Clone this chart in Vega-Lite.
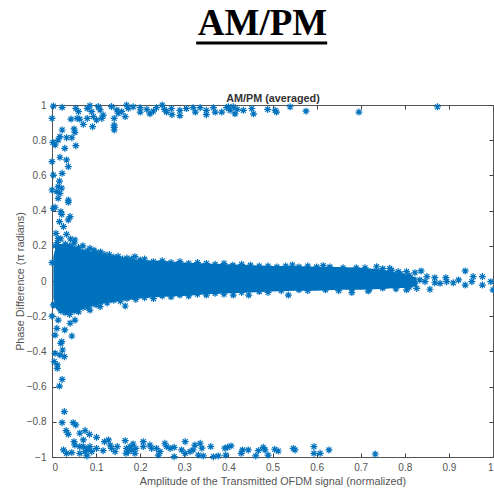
{"$schema":"https://vega.github.io/schema/vega-lite/v6.json","autosize":"none","width":441,"height":352,"padding":{"left":52,"top":105,"right":1,"bottom":34},"background":"white",
"title":{"text":"AM/PM","font":"Liberation Serif","fontSize":37,"fontWeight":"bold","color":"#000000","anchor":"middle","frame":"group","dx":-10,"offset":-1},
"config":{"view":{"stroke":null},"axis":{"grid":false,"domainColor":"#555555","tickColor":"#404040","labelColor":"#555555","titleColor":"#555555","labelFont":"Liberation Sans","titleFont":"Liberation Sans","labelFontSize":10,"titleFontSize":10.8,"titleFontWeight":"normal","tickSize":-4,"labelPadding":9}},
"datasets":{"band":[{"a":0.003,"hi":0.14,"lo":-0.1},{"a":0.01,"hi":0.21,"lo":-0.16},{"a":0.02,"hi":0.21,"lo":-0.18},{"a":0.03,"hi":0.21,"lo":-0.19},{"a":0.05,"hi":0.2,"lo":-0.18},{"a":0.07,"hi":0.18,"lo":-0.16},{"a":0.1,"hi":0.16,"lo":-0.135},{"a":0.125,"hi":0.145,"lo":-0.125},{"a":0.15,"hi":0.135,"lo":-0.115},{"a":0.2,"hi":0.12,"lo":-0.1},{"a":0.25,"hi":0.115,"lo":-0.09},{"a":0.3,"hi":0.105,"lo":-0.085},{"a":0.35,"hi":0.1,"lo":-0.075},{"a":0.4,"hi":0.095,"lo":-0.07},{"a":0.45,"hi":0.09,"lo":-0.065},{"a":0.5,"hi":0.085,"lo":-0.06},{"a":0.55,"hi":0.085,"lo":-0.055},{"a":0.6,"hi":0.08,"lo":-0.055},{"a":0.65,"hi":0.08,"lo":-0.05},{"a":0.7,"hi":0.075,"lo":-0.05},{"a":0.75,"hi":0.065,"lo":-0.045},{"a":0.78,"hi":0.05,"lo":-0.04},{"a":0.8,"hi":0.04,"lo":-0.04},{"a":0.827,"hi":0.02,"lo":-0.03}],
"pts":[[0.003,0.994],[0.023,0.987],[0,0.924],[0.054,0.981],[0.06,0.962],[0.043,0.92],[0.057,0.924],[0.063,0.92],[0.08,0.981],[0.086,0.996],[0.09,0.962],[0.08,0.924],[0.094,0.934],[0.105,0.991],[0.109,0.972],[0.116,0.943],[0.113,0.924],[0.101,0.915],[0.092,0.877],[0.071,0.89],[0.141,0.924],[0.141,0.886],[0.141,0.873],[0.141,0.858],[0.135,0.991],[0.147,0.972],[0.15,0.953],[0.166,0.934],[0.158,0.962],[0.169,1],[0.173,0.981],[0.184,0.99],[0.2,0.985],[0.2,0.96],[0.215,0.975],[0.222,0.95],[0.23,0.965],[0.237,0.985],[0.25,1],[0.255,0.975],[0.26,0.96],[0.271,0.98],[0.272,0.945],[0.29,0.94],[0.29,0.97],[0.305,0.98],[0.32,0.985],[0.325,0.96],[0.336,0.985],[0.35,0.97],[0.35,0.945],[0.366,0.985],[0.37,0.96],[0.385,0.96],[0.396,0.985],[0.4,0.99],[0.404,0.97],[0.411,0.99],[0.415,0.95],[0.42,0.975],[0.434,0.97],[0.453,0.98],[0.457,0.95],[0.489,0.975],[0.506,0.97],[0.509,0.96],[0.54,0.99],[0.576,0.965],[0.696,0.96],[0.874,0.99],
[0.023,0.858],[0.05,0.864],[0.052,0.845],[0.045,0.814],[0.033,0.814],[0.018,0.82],[0.014,0.801],[0.002,0.788],[0.007,0.773],[0.029,0.754],[0.054,0.769],[0.018,0.703],[0.033,0.688],[0.037,0.65],[0,0.678],[0.023,0.612],[0.003,0.602],[0.017,0.568],[0,0.517],[0.014,0.536],[0.022,0.527],[0.011,0.508],[0.018,0.498],[0.014,0.47],[0.037,0.46],[0.037,0.447],[0.003,0.413],[0.007,0.419],[0.02,0.394],[0.022,0.379],[0.041,0.366],[0.037,0.347],[0.017,0.337],[0.026,0.309],[0.009,0.271],[0.033,0.265],[0.014,0.242],[0.042,0.239],[0.052,0.233],[0,0.104],
[0,-0.2],[0.014,-0.222],[0.041,-0.24],[0.052,-0.222],[0.011,-0.269],[0.029,-0.278],[0.045,-0.3125],[0.007,-0.307],[0.022,-0.345],[0.003,-0.136],[0.086,-0.165],[0.166,-0.142],[0.109,-0.146],[0.02,-0.354],[0.024,-0.392],[0.007,-0.411],[0.018,-0.42],[0.028,-0.43],[0.005,-0.458],[0.012,-0.477],[0.012,-0.496],[0.023,-0.559],[0.017,-0.597],[0.028,-0.742],[0.023,-0.805],[0.048,-0.805],[0.054,-0.818],[0.032,-0.85],[0.037,-0.871],[0.026,-0.96],[0.033,-0.979],[0.045,-0.975],[0.05,-0.913],[0.052,-0.932],[0.063,-0.865],[0.075,-0.85],[0.085,-0.871],[0.101,-0.888],[0.071,-0.903],[0.063,-0.941],[0.063,-0.979],[0.071,-0.941],[0.079,-0.951],[0.082,-0.96],[0.075,-0.97],[0.086,-0.941],[0.09,-0.97],[0.079,-0.994],[0.101,-0.951],[0.119,-0.913],[0.116,-0.964],[0.128,-0.903],[0.132,-0.932],[0.135,-0.951],[0.143,-0.97],[0.148,-0.941],[0.166,-0.907],[0.169,-0.951],[0.173,-0.97],[0.168,-0.979],[0.181,-0.96],[0.184,-0.926],[0.188,-0.979],[0.19,-0.951],[0.177,-0.941],[0.207,-0.913],[0.207,-0.941],[0.222,-0.932],[0.226,-0.951],[0.237,-0.951],[0.241,-0.989],[0.245,-0.97],[0.256,-0.922],[0.26,-0.941],[0.268,-0.951],[0.277,-0.945],[0.277,-0.998],[0.302,-0.913],[0.294,-0.96],[0.302,-0.979],[0.313,-0.97],[0.324,-0.932],[0.32,-0.96],[0.336,-0.922],[0.34,-0.95],[0.332,-0.989],[0.343,-0.994],[0.36,-0.941],[0.366,-0.998],[0.377,-0.994],[0.392,-0.95],[0.394,-0.989],[0.406,-0.937],[0.398,-0.945],[0.429,-0.979],[0.432,-0.96],[0.445,-0.96],[0.462,-0.994],[0.468,-0.964],[0.479,-0.945],[0.483,-0.96],[0.49,-0.989],[0.505,-0.956],[0.513,-0.966],[0.547,-0.951],[0.551,-0.96],[0.594,-0.941],[0.594,-0.979],[0.608,-0.979],[0.628,-0.96],[0.733,-0.983],
[0.804,0.053],[0.823,0.047],[0.837,0.057],[0.85,0.025],[0.868,0.019],[0.893,0.019],[0.937,0.057],[0.955,0.025],[0.976,0.025],[0.976,-0.023],[0.995,-0.004],[1,-0.05],[0.952,-0.004],[0.937,-0.023],[0.922,0.006],[0.91,-0.01],[0.895,-0.004],[0.88,-0.013],[0.868,-0.01],[0.857,-0.047],[0.846,-0.004],[0.834,0.006],[0.823,-0.013],[0.827,-0.042],[0.804,-0.05],[0.736,0.081],[0.766,0.072],[0.785,0.053],[0.68,-0.066],[0.717,-0.057],[0.536,-0.08],[0.446,-0.08],[0.411,-0.08],[0.545,0.091],[0.615,0.087],[0.086,0.186],[0.188,0.138],
[0.008,0.2],[0.012,0.22],[0.02,0.24],[0.03,0.21],[0.04,0.2],[0.05,0.215],[0.06,0.19],[0.07,0.2],[0.08,0.17],[0.095,0.175],[0.1,0.16],[0.11,0.165],[0.12,0.15],[0.13,0.15],[0.14,0.135],[0.15,0.14],[0.16,0.125],[0.17,0.13],[0.18,0.125],[0.2,0.12],[0.21,0.125],[0.23,0.11],[0.25,0.115],[0.27,0.105],[0.29,0.11],[0.31,0.1],[0.33,0.105],[0.35,0.1],[0.37,0.095],[0.39,0.1],[0.41,0.09],[0.43,0.095],[0.45,0.09],[0.47,0.085],[0.49,0.085],[0.51,0.08],[0.53,0.085],[0.56,0.08],[0.58,0.085],[0.6,0.08],[0.63,0.08],[0.66,0.075],[0.69,0.075],[0.71,0.075],[0.75,0.07],[0.77,0.06],[0.79,0.04],[0.81,0.03],
[0.01,-0.14],[0.02,-0.17],[0.03,-0.18],[0.04,-0.19],[0.05,-0.17],[0.06,-0.175],[0.07,-0.15],[0.08,-0.15],[0.09,-0.13],[0.1,-0.135],[0.11,-0.12],[0.125,-0.125],[0.14,-0.11],[0.155,-0.115],[0.17,-0.1],[0.19,-0.105],[0.21,-0.095],[0.23,-0.1],[0.25,-0.085],[0.27,-0.09],[0.29,-0.08],[0.31,-0.085],[0.33,-0.075],[0.35,-0.08],[0.37,-0.07],[0.39,-0.075],[0.43,-0.065],[0.47,-0.06],[0.49,-0.065],[0.52,-0.055],[0.56,-0.05],[0.58,-0.055],[0.62,-0.05],[0.65,-0.055],[0.68,-0.045],[0.72,-0.045],[0.75,-0.04],[0.78,-0.045],[0.81,-0.035]]},
"layer":[
{"data":{"name":"band"},"mark":{"type":"area","color":"#0072BD"},"encoding":{"x":{"field":"a","type":"quantitative","scale":{"domain":[0,1],"nice":false},"axis":{"orient":"bottom","title":"Amplitude of the Transmitted OFDM signal (normalized)","values":[0,0.1,0.2,0.3,0.4,0.5,0.6,0.7,0.8,0.9,1],"format":"~g","titlePadding":3}},"y":{"field":"hi","type":"quantitative","scale":{"domain":[-1,1],"nice":false},"axis":{"orient":"left","title":"Phase Difference (π radians)","values":[-1,-0.8,-0.6,-0.4,-0.2,0,0.2,0.4,0.6,0.8,1],"format":"~g","labelPadding":10,"titlePadding":1}},"y2":{"field":"lo"}}},
{"data":{"name":"pts"},"mark":{"type":"point","shape":"M-1,0L1,0M0,-1L0,1M-0.7,-0.7L0.7,0.7M-0.7,0.7L0.7,-0.7","filled":false,"stroke":"#0072BD","strokeWidth":1.2,"size":49,"opacity":1},"encoding":{"x":{"field":"0","type":"quantitative","axis":{"orient":"top","title":"AM/PM (averaged)","titleFontWeight":"bold","titleColor":"#333333","labels":false,"titlePadding":1}},"y":{"field":"1","type":"quantitative","axis":{"orient":"right","title":null,"labels":false}}}},
{"data":{"values":[{"from":0.327,"to":0.624,"level":1.352}]},"mark":{"type":"rule","color":"#000000","strokeWidth":3},"encoding":{"x":{"field":"from","type":"quantitative","axis":null},"x2":{"field":"to"},"y":{"field":"level","type":"quantitative","axis":null}}}
],
"resolve":{"axis":{"x":"independent","y":"independent"}}}
